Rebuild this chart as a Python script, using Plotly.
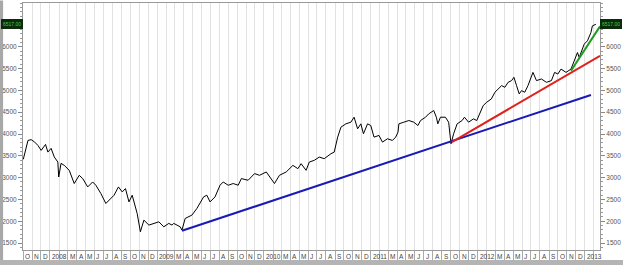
import plotly.graph_objects as go
import pandas as pd

# ---- price series ----
dates = [
    "2007-10-02", "2007-10-18", "2007-10-29", "2007-11-10", "2007-11-21", "2007-12-02",
    "2007-12-17", "2007-12-25", "2008-01-05", "2008-01-16", "2008-01-28", "2008-01-31",
    "2008-02-08", "2008-02-19", "2008-03-07", "2008-03-24", "2008-04-10", "2008-04-22",
    "2008-05-09", "2008-05-26", "2008-06-06", "2008-06-23", "2008-07-10", "2008-07-27",
    "2008-08-07", "2008-08-22", "2008-09-04", "2008-09-15", "2008-09-27", "2008-10-08",
    "2008-10-25", "2008-11-05", "2008-11-17", "2008-12-04", "2008-12-21", "2009-01-07",
    "2009-01-24", "2009-02-10", "2009-02-21", "2009-02-27", "2009-03-21", "2009-03-27",
    "2009-04-07", "2009-04-30", "2009-05-17", "2009-06-09", "2009-06-20", "2009-07-01",
    "2009-07-18", "2009-08-04", "2009-08-15", "2009-09-01", "2009-09-18", "2009-10-05",
    "2009-10-16", "2009-11-08", "2009-11-30", "2009-12-17", "2010-01-09", "2010-01-26",
    "2010-02-06", "2010-02-23", "2010-03-18", "2010-04-10", "2010-04-27", "2010-05-08",
    "2010-05-25", "2010-06-05", "2010-06-22", "2010-07-09", "2010-07-26", "2010-08-18",
    "2010-08-29", "2010-09-10", "2010-09-21", "2010-10-08", "2010-10-25", "2010-11-05",
    "2010-11-17", "2010-11-28", "2010-12-07", "2010-12-21", "2011-01-01", "2011-01-12",
    "2011-01-29", "2011-02-10", "2011-02-27", "2011-03-16", "2011-03-27", "2011-04-04",
    "2011-04-07", "2011-04-24", "2011-05-11", "2011-05-28", "2011-06-11", "2011-06-20",
    "2011-07-07", "2011-07-18", "2011-08-04", "2011-08-13", "2011-08-18", "2011-08-27",
    "2011-09-13", "2011-09-24", "2011-09-30", "2011-10-02", "2011-10-11", "2011-10-23",
    "2011-11-09", "2011-11-17", "2011-12-01", "2011-12-18", "2011-12-29", "2012-01-09",
    "2012-01-20", "2012-02-01", "2012-02-17", "2012-02-29", "2012-03-11", "2012-03-23",
    "2012-04-03", "2012-04-14", "2012-04-26", "2012-05-04", "2012-05-13", "2012-05-22",
    "2012-05-30", "2012-06-10", "2012-06-21", "2012-07-03", "2012-07-08", "2012-07-20",
    "2012-08-06", "2012-08-23", "2012-09-09", "2012-09-20", "2012-10-01", "2012-10-12",
    "2012-10-29", "2012-11-15", "2012-11-26", "2012-12-07", "2012-12-13", "2012-12-30",
    "2013-01-10", "2013-01-22", "2013-01-27", "2013-02-08",
]
prices = [
    3420, 3852, 3870, 3814, 3738, 3624,
    3761, 3585, 3670, 3471, 3357, 3014,
    3327, 3281, 3167, 2864, 3053, 2978,
    2786, 2900, 2825, 2635, 2407, 2521,
    2596, 2786, 2672, 2749, 2443, 2596,
    2178, 1758, 2025, 1911, 1950, 1986,
    1872, 1950, 1911, 1950, 1872, 1797,
    2064, 2140, 2292, 2558, 2596, 2443,
    2558, 2825, 2900, 2825, 2864, 2825,
    2978, 2939, 3092, 3053, 3129, 2978,
    2864, 3053, 3129, 3281, 3205, 3319,
    3167, 3357, 3396, 3471, 3434, 3548,
    3585, 3928, 4156, 4233, 4271, 4385,
    4119, 4233, 4005, 4233, 4195, 3928,
    3967, 3814, 3891, 3852, 3928, 4042,
    4233, 4271, 4309, 4271, 4195, 4309,
    4385, 4462, 4538, 4385, 4233, 4385,
    4385, 4271, 3852, 3776, 4005, 4233,
    4309, 4385, 4271, 4347, 4309, 4462,
    4652, 4728, 4805, 4957, 5033, 5109,
    5071, 5185, 5224, 5300, 5109, 4919,
    4995, 4957, 5109, 5337, 5413, 5224,
    5262, 5185, 5224, 5413, 5375, 5489,
    5413, 5489, 5679, 5868, 5755, 6060,
    6136, 6326, 6479, 6517,
]

# ---- trend lines ----
blue_dates = ["2009-03-27", "2013-01-22"]
blue_vals = [1781, 4896]
red_dates = ["2011-10-05", "2013-02-22"]
red_vals = [3814, 5794]
green_dates = ["2012-11-15", "2013-02-22"]
green_vals = [5451, 6468]

# ---- axes ----
x_start, x_end = "2007-10-01", "2013-02-22"
y_min, y_max = 1340, 7004
y_ticks = [1500, 2000, 2500, 3000, 3500, 4000, 4500, 5000, 5500, 6000]
month_starts = pd.date_range("2007-10-01", "2013-02-01", freq="MS")
MONTH_LETTERS = ["J", "F", "M", "A", "M", "J", "J", "A", "S", "O", "N", "D"]
month_labels = []
for d in month_starts:
    if d.month == 1:
        month_labels.append(str(d.year))
    elif d.month == 2:
        month_labels.append("")
    else:
        month_labels.append(MONTH_LETTERS[d.month - 1])

fig = go.Figure()
fig.add_trace(go.Scatter(x=dates, y=prices, mode="lines",
                         line=dict(color="#000000", width=1), showlegend=False))
fig.add_trace(go.Scatter(x=blue_dates, y=blue_vals, mode="lines",
                         line=dict(color="#1a1ab4", width=2), showlegend=False))
fig.add_trace(go.Scatter(x=red_dates, y=red_vals, mode="lines",
                         line=dict(color="#e0201c", width=2), showlegend=False))
fig.add_trace(go.Scatter(x=green_dates, y=green_vals, mode="lines",
                         line=dict(color="#1f9a1f", width=2), showlegend=False))
# invisible trace for right axis
fig.add_trace(go.Scatter(x=[dates[0]], y=[prices[0]], yaxis="y2", mode="markers",
                         marker=dict(opacity=0), showlegend=False, hoverinfo="skip"))

tickfont = dict(family="Liberation Sans, Arial", size=6.5, color="#555555")
yax = dict(range=[y_min, y_max], tickvals=y_ticks, ticks="outside", ticklen=4,
           tickcolor="#888888", showline=True, linecolor="#999999", linewidth=1,
           showgrid=False, zeroline=False, tickfont=tickfont,
           minor=dict(dtick=100, tick0=0, ticks="outside", ticklen=2, tickcolor="#999999",
                      showgrid=False))

fig.update_layout(
    width=623, height=265,
    margin=dict(l=22, r=22, t=2, b=15),
    paper_bgcolor="#ffffff", plot_bgcolor="#ffffff",
    xaxis=dict(range=[x_start, x_end], type="date", tickvals=month_starts,
               showticklabels=False, ticks="outside", ticklen=10, tickcolor="#aaaaaa",
               showgrid=True, gridcolor="#e2e2e2", gridwidth=1,
               showline=True, linecolor="#999999", mirror=True, zeroline=False),
    yaxis=yax,
    yaxis2=dict(yax, overlaying="y", side="right", matches="y"),
    showlegend=False,
)

for d, lab in zip(month_starts, month_labels):
    if lab:
        fig.add_annotation(x=d, y=0, xref="x", yref="paper", text=lab, showarrow=False,
                           xanchor="left", yanchor="top", xshift=0, yshift=-1,
                           font=dict(family="Liberation Sans, Arial", size=6.5, color="#444444"))

# latest value boxes
last_txt = f"{prices[-1]:.2f}"
for xp, anchor in [(0, "right"), (1, "left")]:
    fig.add_annotation(x=xp, y=prices[-1], xref="paper", yref="y", text=last_txt,
                       showarrow=False, xanchor=anchor, yanchor="middle",
                       xshift=0,
                       bgcolor="#0d2a0d", bordercolor="#0d2a0d", borderpad=1,
                       font=dict(family="Liberation Sans, Arial", size=5, color="#3cd23c"))

# gray frame strips
fig.add_shape(type="rect", xref="paper", yref="paper", x0=-0.04, x1=-0.0345, y0=-0.07, y1=1.01,
              fillcolor="#a8a8a8", line=dict(width=0), layer="above")
fig.add_shape(type="rect", xref="paper", yref="paper", x0=-0.04, x1=1.04, y0=-0.07, y1=-0.0403,
              fillcolor="#b4b4b4", line=dict(width=0), layer="above")

fig.write_html("out.html")
